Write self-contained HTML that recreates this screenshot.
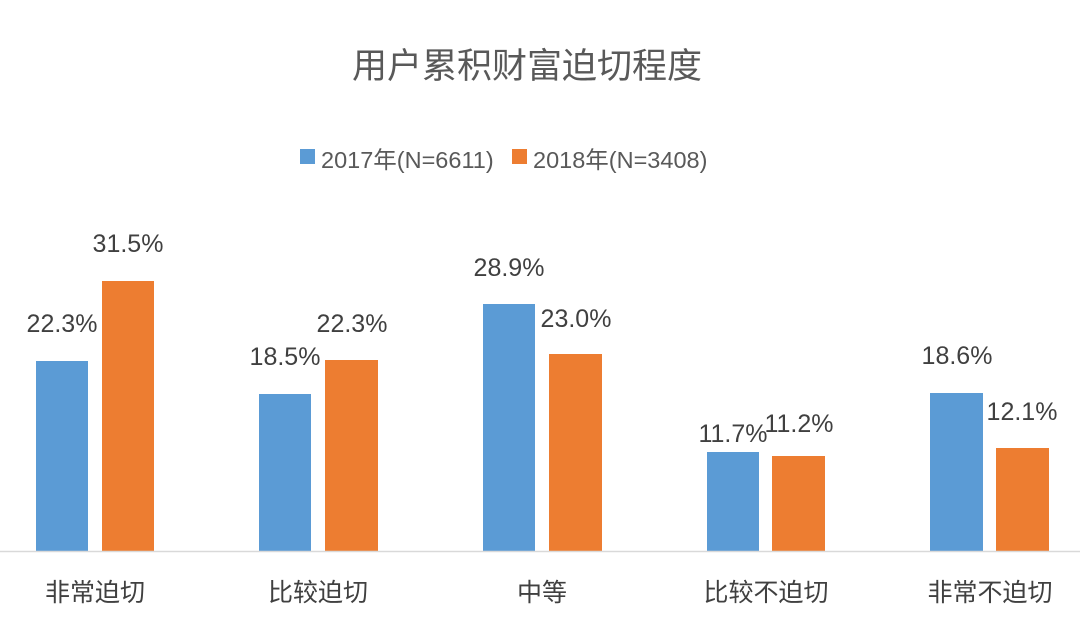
<!DOCTYPE html>
<html><head><meta charset="utf-8"><style>
html,body{margin:0;padding:0;background:#fff;}
svg{display:block;font-family:"Liberation Sans","Noto Sans CJK SC",sans-serif;}
</style></head><body>
<svg width="1080" height="619" viewBox="0 0 1080 619" xmlns="http://www.w3.org/2000/svg">
<rect width="1080" height="619" fill="#fff"/>
<text x="527" y="78" font-size="35" fill="#595959" text-anchor="middle">用户累积财富迫切程度</text>
<rect x="300" y="149" width="15" height="15" fill="#5b9bd5"/>
<text x="321" y="168" font-size="23.5" fill="#595959">2017年(N=6611)</text>
<rect x="512" y="149" width="15" height="15" fill="#ed7d31"/>
<text x="533" y="168" font-size="23.5" fill="#595959">2018年(N=3408)</text>
<g fill="#5b9bd5">
<rect x="36" y="361" width="52" height="190"/>
<rect x="259" y="394" width="52" height="157"/>
<rect x="483" y="304" width="52" height="247"/>
<rect x="707" y="452" width="52" height="99"/>
<rect x="930" y="393" width="53" height="158"/>
</g>
<g fill="#ed7d31">
<rect x="102" y="281" width="52" height="270"/>
<rect x="325" y="360" width="53" height="191"/>
<rect x="549" y="354" width="53" height="197"/>
<rect x="772" y="456" width="53" height="95"/>
<rect x="996" y="448" width="53" height="103"/>
</g>
<line x1="0" y1="551.5" x2="1080" y2="551.5" stroke="#d9d9d9" stroke-width="1.5"/>
<g font-size="25" fill="#404040" text-anchor="middle">
<text x="62" y="332">22.3%</text>
<text x="128" y="252">31.5%</text>
<text x="285" y="365">18.5%</text>
<text x="352" y="332">22.3%</text>
<text x="509" y="276">28.9%</text>
<text x="576" y="327">23.0%</text>
<text x="733" y="442">11.7%</text>
<text x="799" y="432">11.2%</text>
<text x="957" y="364">18.6%</text>
<text x="1022" y="420">12.1%</text>
</g>
<g font-size="25" fill="#404040" text-anchor="middle">
<text x="95" y="601">非常迫切</text>
<text x="318" y="601">比较迫切</text>
<text x="542" y="601">中等</text>
<text x="766" y="601">比较不迫切</text>
<text x="990" y="601">非常不迫切</text>
</g>
</svg>
</body></html>
